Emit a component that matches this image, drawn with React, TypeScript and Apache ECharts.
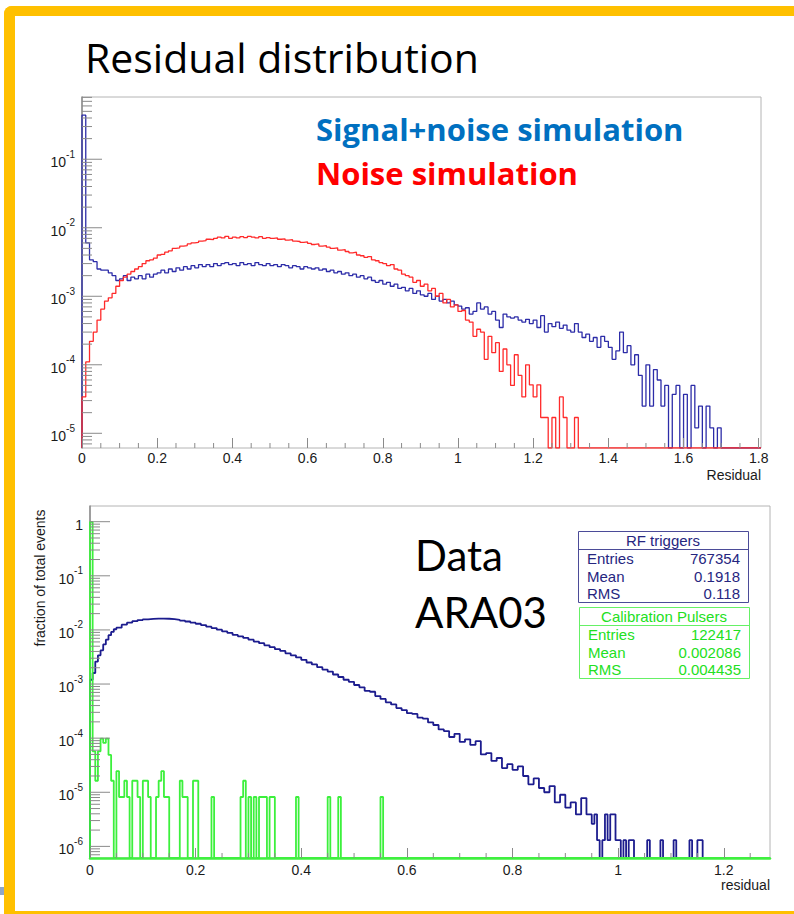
import React, { useEffect, useRef } from "react";
import * as echarts from "echarts";

// ---------------- top panel (simulation) ----------------
const TOP_BIN_WIDTH = 0.01;
const signalNoiseValues = [
  0.44, 6.0e-3, 3.4e-3, 3.2e-3, 2.5e-3, 2.4e-3, 2.4e-3, 2.2e-3, 2.0e-3, 1.7e-3,
  1.8e-3, 2.0e-3, 1.7e-3, 1.9e-3, 1.8e-3, 2.0e-3, 1.8e-3, 2.1e-3, 1.9e-3, 2.1e-3,
  2.2e-3, 2.4e-3, 2.2e-3, 2.5e-3, 2.3e-3, 2.6e-3, 2.4e-3, 2.7e-3, 2.5e-3, 2.8e-3,
  2.6e-3, 2.9e-3, 2.7e-3, 2.9e-3, 2.7e-3, 3.0e-3, 2.8e-3, 3.0e-3, 3.1e-3, 2.9e-3,
  3.0e-3, 2.8e-3, 3.1e-3, 2.9e-3, 3.0e-3, 2.8e-3, 3.1e-3, 2.9e-3, 2.8e-3, 3.0e-3,
  2.8e-3, 2.9e-3, 2.7e-3, 2.9e-3, 2.8e-3, 2.6e-3, 2.8e-3, 2.7e-3, 2.5e-3, 2.7e-3,
  2.6e-3, 2.5e-3, 2.6e-3, 2.4e-3, 2.5e-3, 2.3e-3, 2.4e-3, 2.2e-3, 2.3e-3, 2.1e-3,
  2.2e-3, 2.0e-3, 2.1e-3, 1.9e-3, 2.0e-3, 1.8e-3, 1.9e-3, 1.7e-3, 1.6e-3, 1.7e-3,
  1.5e-3, 1.6e-3, 1.4e-3, 1.5e-3, 1.3e-3, 1.35e-3, 1.2e-3, 1.3e-3, 1.1e-3, 1.2e-3,
  1.05e-3, 1.0e-3, 1.1e-3, 9e-4, 1.0e-3, 8.5e-4, 9e-4, 8e-4, 8.5e-4, 7.5e-4,
  7.2e-4, 6.5e-4, 6.8e-4, 5.5e-4, 6e-4, 8e-4, 6.5e-4, 7e-4, 5.5e-4, 6e-4,
  4.5e-4, 3.5e-4, 5.5e-4, 5e-4, 4.8e-4, 5e-4, 4.5e-4, 4.2e-4, 4.6e-4, 4.0e-4,
  4.5e-4, 3.5e-4, 5.2e-4, 3.0e-4, 4.0e-4, 3.6e-4, 4.2e-4, 3.4e-4, 3.8e-4, 3.2e-4,
  3.0e-4, 4.0e-4, 3.0e-4, 2.5e-4, 2.8e-4, 2.2e-4, 2.5e-4, 1.8e-4, 2.6e-4, 2.2e-4,
  1.8e-4, 1.2e-4, 1.6e-4, 3.0e-4, 1.5e-4, 1.9e-4, 1.0e-4, 1.4e-4, 7e-5, 2.5e-5,
  1.0e-4, 2.5e-5, 8.5e-5, 6e-5, 2.5e-5, 5e-5, 0, 3.7e-5, 5e-5, 0,
  3.7e-5, 0, 5e-5, 1.2e-5, 2.5e-5, 0, 2.5e-5, 1.2e-5, 0, 1.2e-5,
];
const noiseValues = [
  3.4e-5, 1.1e-4, 2.2e-4, 3.0e-4, 4.5e-4, 6.5e-4, 8.5e-4, 9.5e-4, 1.1e-3, 1.4e-3,
  1.7e-3, 1.9e-3, 2.1e-3, 2.3e-3, 2.5e-3, 2.7e-3, 3.0e-3, 3.3e-3, 3.4e-3, 3.6e-3,
  4.0e-3, 4.1e-3, 4.4e-3, 4.6e-3, 5.0e-3, 5.1e-3, 5.4e-3, 5.5e-3, 5.8e-3, 6.0e-3,
  6.1e-3, 6.4e-3, 6.5e-3, 6.8e-3, 6.7e-3, 7.0e-3, 7.3e-3, 7.1e-3, 7.5e-3, 7.0e-3,
  7.3e-3, 7.1e-3, 7.4e-3, 7.2e-3, 7.5e-3, 7.3e-3, 7.1e-3, 7.4e-3, 7.0e-3, 7.2e-3,
  7.0e-3, 7.1e-3, 6.8e-3, 6.9e-3, 6.6e-3, 6.7e-3, 6.4e-3, 6.3e-3, 6.1e-3, 6.2e-3,
  5.9e-3, 5.7e-3, 5.8e-3, 5.4e-3, 5.5e-3, 5.2e-3, 5.0e-3, 5.1e-3, 4.7e-3, 4.8e-3,
  4.5e-3, 4.3e-3, 4.4e-3, 4.0e-3, 3.9e-3, 3.7e-3, 3.8e-3, 3.4e-3, 3.3e-3, 3.1e-3,
  3.0e-3, 2.8e-3, 2.9e-3, 2.5e-3, 2.4e-3, 2.1e-3, 2.0e-3, 1.9e-3, 1.6e-3, 1.7e-3,
  1.4e-3, 1.5e-3, 1.2e-3, 1.3e-3, 1.0e-3, 1.1e-3, 8e-4, 9e-4, 7e-4, 7.5e-4,
  6e-4, 6.2e-4, 4.5e-4, 4.2e-4, 2.6e-4, 3.3e-4, 3.0e-4, 1.2e-4, 2.6e-4, 1.5e-4,
  2.1e-4, 8e-5, 1.7e-4, 1.0e-4, 5e-5, 1.4e-4, 7e-5, 3.4e-5, 1.0e-4, 5.1e-5,
  3.4e-5, 5.1e-5, 1.7e-5, 1.7e-5, 0, 1.7e-5, 0, 3.4e-5, 1.7e-5, 0,
  0, 1.7e-5,
];
const TOP_X_MAX = 1.806;
const TOP_Y_MIN = 6.1e-6;
const TOP_Y_MAX = 0.81;

// ---------------- bottom panel (data ARA03) ----------------
const RF_HEAD_WIDTH = 0.005;
const rfHeadValues = [1.2e-3, 1.6e-3, 2.6e-3, 3.4e-3, 4.2e-3, 5.4e-3, 6.6e-3, 8.0e-3, 9.2e-3, 1.03e-2];
const RF_BODY_START = 0.05;
const RF_BODY_WIDTH = 0.01;
const rfBodyValues = [
  1.10e-2, 1.25e-2, 1.36e-2, 1.45e-2, 1.52e-2, 1.57e-2, 1.60e-2, 1.62e-2, 1.62e-2, 1.61e-2,
  1.58e-2, 1.54e-2, 1.49e-2, 1.43e-2, 1.36e-2, 1.30e-2, 1.23e-2, 1.15e-2, 1.08e-2, 1.01e-2,
  9.4e-3, 8.8e-3, 8.1e-3, 7.6e-3, 7.1e-3, 6.6e-3, 6.1e-3, 5.7e-3, 5.2e-3, 4.8e-3,
  4.4e-3, 4.1e-3, 3.7e-3, 3.4e-3, 3.1e-3, 2.8e-3, 2.5e-3, 2.3e-3, 2.05e-3, 1.85e-3,
  1.7e-3, 1.5e-3, 1.35e-3, 1.2e-3, 1.1e-3, 9.6e-4, 8.7e-4, 7.5e-4, 7.2e-4, 6.0e-4,
  5.3e-4, 4.6e-4, 4.2e-4, 3.6e-4, 3.3e-4, 2.9e-4, 2.8e-4, 2.4e-4, 2.3e-4, 1.95e-4,
  1.75e-4, 1.45e-4, 1.35e-4, 1.05e-4, 1.2e-4, 8.5e-5, 9.5e-5, 7.5e-5, 8.8e-5, 5.0e-5,
  5.3e-5, 3.8e-5, 4.3e-5, 2.8e-5, 3.3e-5, 2.6e-5, 3.0e-5, 2.0e-5, 1.4e-5, 1.8e-5,
  1.2e-5, 1.0e-5, 1.3e-5, 6.5e-6, 9e-6, 5.2e-6, 6.5e-6, 3.9e-6, 7.8e-6, 3.9e-6,
];
const RF_TAIL_START = 0.95;
const RF_TAIL_WIDTH = 0.005;
const rfTailCounts = [
  2, 3, 1, 0, 1, 3, 1, 3, 3, 1,
  1, 0, 1, 0, 1, 1, 0, 0, 0, 0,
  0, 1, 0, 0, 0, 0, 1, 0, 0, 0,
  0, 1, 0, 0, 0, 0, 0, 1, 0, 0,
  1, 1, 0,
];
const rfEntries = 767354;
const CAL_BIN_WIDTH = 0.005;
const calCounts = [
  121400, 7, 2, 7, 12, 10, 12, 6, 2, 0,
  3, 1, 1, 2, 1, 0, 2, 2, 1, 0,
  2, 2, 1, 0, 0, 1, 2, 3, 1, 1,
  0, 0, 0, 0, 2, 1, 1, 0, 0, 2,
  2, 0, 0, 0, 0, 0, 1, 0, 0, 0,
  0, 0, 0, 0, 0, 0, 0, 1, 2, 0,
  1, 0, 1, 0, 1, 1, 1, 0, 1, 1,
  0, 0, 0, 0, 0, 0, 0, 0, 1, 0,
  0, 0, 0, 0, 0, 0, 0, 0, 0, 0,
  1, 0, 0, 0, 1, 0, 0, 0, 0, 0,
  0, 0, 0, 0, 0, 0, 0, 0, 0, 0,
  1,
];
const calEntries = 122417;
const BOT_X_MAX = 1.2875;
const BOT_Y_MIN = 6.1e-7;
const BOT_Y_MAX = 1.95;

const statLabels = ["Entries", "Mean", "RMS"];
const rfStatValues = ["767354", "0.1918", "0.118"];
const calStatValues = ["122417", "0.002086", "0.004435"];

const X_INTERVAL = 0.2;
const X_MINOR_STEP = 0.05;

// -------------------------------------------------------
type Seg = { start: number; width: number; values: number[] };

function histPoints(segs: Seg[], yMin: number, xMax: number) {
  const pts: number[][] = [[segs[0].start, yMin]];
  let end = segs[0].start;
  for (const s of segs) {
    s.values.forEach((v, i) => {
      pts.push([s.start + i * s.width, v > 0 ? v : yMin]);
      end = s.start + (i + 1) * s.width;
    });
  }
  pts.push([end, yMin]);
  pts.push([xMax, yMin]);
  return pts;
}

function yTickItems(xMin: number, min: number, max: number) {
  const out: number[][] = [];
  for (let e = Math.floor(Math.log10(min)); e <= Math.ceil(Math.log10(max)); e++) {
    for (let k = 1; k <= 9; k++) {
      const v = k * Math.pow(10, e);
      if (v >= min && v <= max) out.push([xMin, v, k === 1 ? 20 : 10, 0]);
    }
  }
  return out;
}
function xMinorItems(xMax: number, yMin: number) {
  const out: number[][] = [];
  for (let i = 1; i * X_MINOR_STEP <= xMax + 1e-9; i++) {
    if (i % 4 !== 0) out.push([i * X_MINOR_STEP, yMin, 0, -5]);
  }
  return out;
}

const tickSeries = (idx: number, data: number[][]) => ({
  type: "custom",
  xAxisIndex: idx,
  yAxisIndex: idx,
  z: 6,
  silent: true,
  clip: false,
  encode: { x: 0, y: 1 },
  data,
  renderItem: (_p: any, api: any) => {
    const p = api.coord([api.value(0), api.value(1)]);
    return {
      type: "line",
      shape: { x1: p[0], y1: p[1], x2: p[0] + api.value(2), y2: p[1] + api.value(3) },
      style: { stroke: "#8a8a8a", lineWidth: 1 },
    };
  },
});

const FONT = "'Liberation Sans', Arial, Helvetica, sans-serif";
const SLIDE_FONT = "'Open Sans', Lato, sans-serif";
const DATA_FONT = "Lato, 'Open Sans', sans-serif";

const yLabel = {
  margin: 7,
  showMinLabel: false,
  showMaxLabel: false,
  fontFamily: FONT,
  formatter: (v: number) => {
    const e = Math.round(Math.log10(v));
    if (e === 0) return "{b|1}";
    return `{b|10}{s|${e}}`;
  },
  rich: {
    b: { fontSize: 14, color: "#1a1a1a", fontFamily: FONT, lineHeight: 20, verticalAlign: "bottom" },
    s: { fontSize: 10, color: "#1a1a1a", fontFamily: FONT, lineHeight: 10, verticalAlign: "top" },
  },
};

function xAxisCfg(grid: number, max: number, lineColor: any, margin: number) {
  return {
    gridIndex: grid,
    type: "value",
    min: 0,
    max,
    interval: X_INTERVAL,
    z: 5,
    axisLine: { onZero: false, lineStyle: { color: lineColor, width: 2.5 } },
    axisTick: { inside: true, length: 10, lineStyle: { color: "#8a8a8a" } },
    minorTick: { show: false },
    splitLine: { show: false },
    axisLabel: { margin, color: "#1a1a1a", fontSize: 14, fontFamily: FONT, showMaxLabel: false },
  };
}
function yAxisCfg(grid: number, min: number, max: number) {
  return {
    gridIndex: grid,
    type: "log",
    logBase: 10,
    min,
    max,
    axisLine: { onZero: false, lineStyle: { color: "#8a8a8a", width: 1.5 } },
    axisTick: { show: false },
    minorTick: { show: false },
    splitLine: { show: false },
    minorSplitLine: { show: false },
    axisLabel: yLabel,
  };
}

function statBox(x: number, y: number, title: string, values: string[], stroke: string, color: string) {
  const w = 170;
  const h = 71;
  const els: any[] = [
    { type: "rect", shape: { x: x + 0.5, y: y + 0.5, width: w, height: h }, style: { fill: "#fff", stroke, lineWidth: 1 }, z: 20 },
    { type: "line", shape: { x1: x + 0.5, y1: y + 18.5, x2: x + w + 0.5, y2: y + 18.5 }, style: { stroke, lineWidth: 1 }, z: 21 },
    { type: "text", x: x + w / 2, y: y + 9.5, style: { text: title, fill: color, font: `15px ${FONT}`, align: "center", verticalAlign: "middle" }, z: 21 },
  ];
  statLabels.forEach((lab, i) => {
    const cy = y + 27.5 + i * 17.5;
    els.push({ type: "text", x: x + 9, y: cy, style: { text: lab, fill: color, font: `15px ${FONT}`, align: "left", verticalAlign: "middle" }, z: 21 });
    els.push({ type: "text", x: x + w - 8, y: cy, style: { text: values[i], fill: color, font: `15px ${FONT}`, align: "right", verticalAlign: "middle" }, z: 21 });
  });
  return els;
}

export default function App() {
  const ref = useRef<HTMLDivElement>(null);
  useEffect(() => {
    if (!ref.current) return;
    const chart = echarts.init(ref.current, undefined, { renderer: "svg" });

    const blueTop = histPoints([{ start: 0, width: TOP_BIN_WIDTH, values: signalNoiseValues }], TOP_Y_MIN, TOP_X_MAX);
    const redTop = histPoints([{ start: 0, width: TOP_BIN_WIDTH, values: noiseValues }], TOP_Y_MIN, TOP_X_MAX);
    const rfPts = histPoints(
      [
        { start: 0, width: RF_HEAD_WIDTH, values: rfHeadValues },
        { start: RF_BODY_START, width: RF_BODY_WIDTH, values: rfBodyValues },
        { start: RF_TAIL_START, width: RF_TAIL_WIDTH, values: rfTailCounts.map((c) => c / rfEntries) },
      ],
      BOT_Y_MIN,
      BOT_X_MAX
    );
    const calPts = histPoints(
      [{ start: 0, width: CAL_BIN_WIDTH, values: calCounts.map((c) => c / calEntries) }],
      BOT_Y_MIN,
      BOT_X_MAX
    );

    // where the noise histogram first reaches zero: from there the baseline turns olive
    const firstZero = noiseValues.findIndex((v) => v === 0) * TOP_BIN_WIDTH;
    const off = firstZero / TOP_X_MAX;
    const topBase = new echarts.graphic.LinearGradient(0, 0, 1, 0, [
      { offset: 0, color: "#8cc88c" },
      { offset: off, color: "#8cc88c" },
      { offset: Math.min(1, off + 0.001), color: "#c9c07c" },
      { offset: 1, color: "#c9c07c" },
    ]);

    const graphic: any[] = [
      // slide frame
      { type: "rect", shape: { x: 4, y: 6, width: 800, height: 10, r: [8, 0, 0, 0] }, style: { fill: "#FFC000" }, z: -10 },
      { type: "rect", shape: { x: 4, y: 6, width: 11, height: 908, r: [8, 0, 0, 0] }, style: { fill: "#FFC000" }, z: -10 },
      { type: "rect", shape: { x: 4, y: 911, width: 800, height: 3 }, style: { fill: "#FFC000" }, z: -10 },
      { type: "rect", shape: { x: 0, y: 887, width: 4, height: 8 }, style: { fill: "#8ea6c8" }, z: -10 },
      // title and slide texts
      { type: "text", x: 85, y: 57, style: { text: "Residual distribution", fill: "#000", font: `41px ${SLIDE_FONT}`, align: "left", verticalAlign: "middle" }, z: 30 },
      { type: "text", x: 316, y: 129, style: { text: "Signal+noise simulation", fill: "#0070C0", font: `bold 31px ${SLIDE_FONT}`, align: "left", verticalAlign: "middle" }, z: 30 },
      { type: "text", x: 316, y: 173, style: { text: "Noise simulation", fill: "#FF0000", font: `bold 31px ${SLIDE_FONT}`, align: "left", verticalAlign: "middle" }, z: 30 },
      { type: "text", x: 415, y: 555, style: { text: "Data", fill: "#000", font: `42px ${DATA_FONT}`, align: "left", verticalAlign: "middle" }, z: 30 },
      { type: "text", x: 415, y: 612, style: { text: "ARA03", fill: "#000", font: `42px ${DATA_FONT}`, align: "left", verticalAlign: "middle" }, z: 30 },
      // axis titles
      { type: "text", x: 761, y: 475, style: { text: "Residual", fill: "#1a1a1a", font: `14px ${FONT}`, align: "right", verticalAlign: "middle" }, z: 30 },
      { type: "text", x: 770, y: 885, style: { text: "residual", fill: "#1a1a1a", font: `14px ${FONT}`, align: "right", verticalAlign: "middle" }, z: 30 },
      { type: "text", x: 40, y: 578, rotation: Math.PI / 2, style: { text: "fraction of total events", fill: "#1a1a1a", font: `14px ${FONT}`, align: "center", verticalAlign: "middle" }, z: 30 },
      ...statBox(578, 531, "RF triggers", rfStatValues, "#4b4b98", "#26267f"),
      ...statBox(579, 607, "Calibration Pulsers", calStatValues, "#66f066", "#22e022"),
    ];

    chart.setOption({
      animation: false,
      backgroundColor: "#fff",
      textStyle: { fontFamily: FONT },
      grid: [
        { left: 82, top: 97, width: 679, height: 351, show: true, borderColor: "#b4b4b4", borderWidth: 1, backgroundColor: "transparent" },
        { left: 90, top: 506, width: 680, height: 352, show: true, borderColor: "#b4b4b4", borderWidth: 1, backgroundColor: "transparent" },
      ],
      xAxis: [xAxisCfg(0, TOP_X_MAX, topBase, 3), xAxisCfg(1, BOT_X_MAX, "#40f040", 5)],
      yAxis: [yAxisCfg(0, TOP_Y_MIN, TOP_Y_MAX), yAxisCfg(1, BOT_Y_MIN, BOT_Y_MAX)],
      series: [
        { name: "Signal+noise simulation", type: "line", xAxisIndex: 0, yAxisIndex: 0, step: "end", showSymbol: false, symbol: "none", data: blueTop, lineStyle: { color: "#2c2ca8", width: 1.3 }, z: 2, clip: true },
        { name: "Noise simulation", type: "line", xAxisIndex: 0, yAxisIndex: 0, step: "end", showSymbol: false, symbol: "none", data: redTop, lineStyle: { color: "#ff2a2a", width: 1.3 }, z: 3, clip: true },
        { name: "RF triggers", type: "line", xAxisIndex: 1, yAxisIndex: 1, step: "end", showSymbol: false, symbol: "none", data: rfPts, lineStyle: { color: "#1c1c8e", width: 1.8 }, z: 2, clip: true },
        { name: "Calibration Pulsers", type: "line", xAxisIndex: 1, yAxisIndex: 1, step: "end", showSymbol: false, symbol: "none", data: calPts, lineStyle: { color: "#3cf03c", width: 1.8 }, z: 3, clip: true },
        tickSeries(0, [...yTickItems(0, TOP_Y_MIN, TOP_Y_MAX), ...xMinorItems(TOP_X_MAX, TOP_Y_MIN)]),
        tickSeries(1, [...yTickItems(0, BOT_Y_MIN, BOT_Y_MAX), ...xMinorItems(BOT_X_MAX, BOT_Y_MIN)]),
      ],
      graphic,
    });
    return () => chart.dispose();
  }, []);
  return (
    <div
      ref={ref}
      style={{ position: "fixed", left: 0, top: 0, width: 794, height: 914, background: "#fff" }}
    />
  );
}
